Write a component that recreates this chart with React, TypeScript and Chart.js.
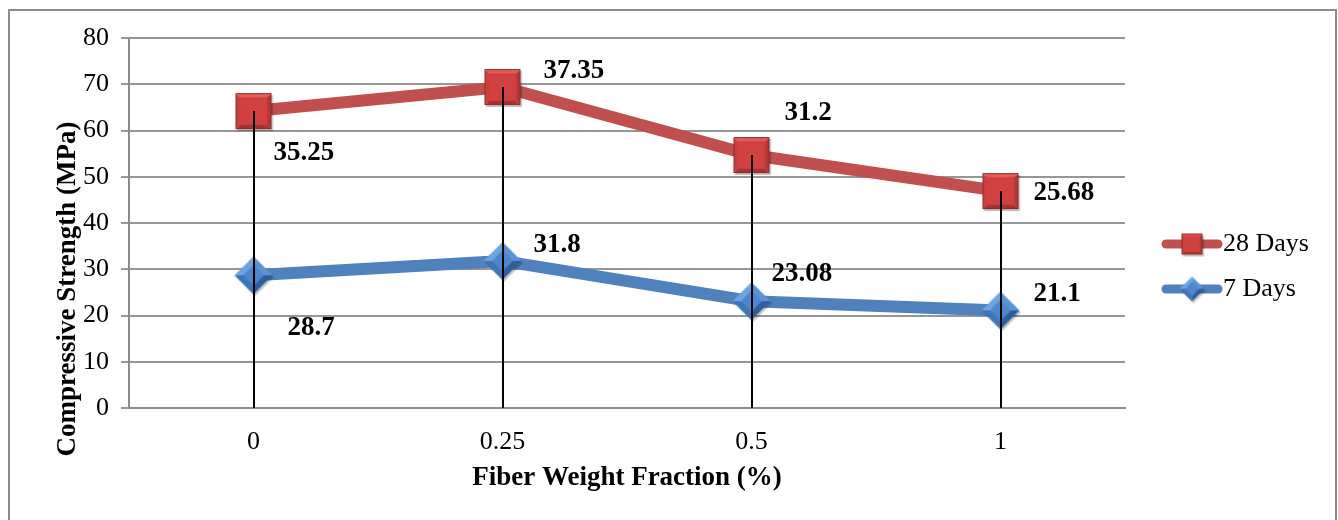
import React, { useEffect, useRef } from "react";
import { Chart, registerables } from "chart.js";

Chart.register(...registerables);

const categories = ["0", "0.25", "0.5", "1"];
const series28Label = "28 Days";
const series7Label = "7 Days";
const days28Values = [64.2, 69.4, 54.7, 46.9];
const days7Values = [28.7, 31.8, 23.1, 21.1];
const days28Labels = ["35.25", "37.35", "31.2", "25.68"];
const days7Labels = ["28.7", "31.8", "23.08", "21.1"];
const yTicksMin = 0;
const yTicksMax = 80;
const yTickStep = 10;
const yTitle = "Compressive Strength (MPa)";
const xTitle = "Fiber Weight Fraction (%)";

// label offsets (style only): [dx from point to text left, dy to text middle]
const offs28: [number, number][] = [[20, 42], [41, -16], [33, -42], [33, 2]];
const offs7: [number, number][] = [[34, 53], [31, -16], [20, -27], [33, -16]];

const RED = "#C0504D";
const BLUE = "#4F81BD";
const FONT = "'Liberation Serif', 'Times New Roman', serif";

function makeSquare(size: number): HTMLCanvasElement {
  const pad = 3;
  const c = document.createElement("canvas");
  c.width = size + pad * 2;
  c.height = size + pad * 2;
  const g = c.getContext("2d")!;
  const x0 = pad, y0 = pad, x1 = pad + size, y1 = pad + size;
  const cx = (x0 + x1) / 2, cy = (y0 + y1) / 2;
  const inset = size * 0.12;
  g.fillStyle = "rgba(0,0,0,0.25)";
  g.fillRect(x0 + 1.5, y0 + 2, size, size);
  const tri = (pts: number[][], col: string) => {
    g.beginPath();
    g.moveTo(pts[0][0], pts[0][1]);
    for (let i = 1; i < pts.length; i++) g.lineTo(pts[i][0], pts[i][1]);
    g.closePath();
    g.fillStyle = col;
    g.fill();
  };
  tri([[x0, y0], [x1, y0], [cx, cy]], "#E35A58");
  tri([[x0, y0], [x0, y1], [cx, cy]], "#C8403E");
  tri([[x1, y0], [x1, y1], [cx, cy]], "#B53634");
  tri([[x0, y1], [x1, y1], [cx, cy]], "#A83231");
  g.fillStyle = "#D0413F";
  g.fillRect(x0 + inset, y0 + inset, size - 2 * inset, size - 2 * inset);
  g.strokeStyle = "#8E2A29";
  g.lineWidth = 1;
  g.strokeRect(x0 + 0.5, y0 + 0.5, size - 1, size - 1);
  return c;
}

function makeDiamond(size: number): HTMLCanvasElement {
  const pad = 3;
  const c = document.createElement("canvas");
  c.width = size + pad * 2;
  c.height = size + pad * 2;
  const g = c.getContext("2d")!;
  const cx = pad + size / 2, cy = pad + size / 2, r = size / 2;
  const tri = (pts: number[][], col: string) => {
    g.beginPath();
    g.moveTo(pts[0][0], pts[0][1]);
    for (let i = 1; i < pts.length; i++) g.lineTo(pts[i][0], pts[i][1]);
    g.closePath();
    g.fillStyle = col;
    g.fill();
  };
  tri([[cx + 1.5, cy - r + 2], [cx + r + 1.5, cy + 2], [cx + 1.5, cy + r + 2], [cx - r + 1.5, cy + 2]], "rgba(0,0,0,0.22)");
  tri([[cx, cy - r], [cx - r, cy], [cx, cy]], "#6FA3E0");
  tri([[cx, cy - r], [cx + r, cy], [cx, cy]], "#5A92D6");
  tri([[cx - r, cy], [cx, cy + r], [cx, cy]], "#3E74B8");
  tri([[cx + r, cy], [cx, cy + r], [cx, cy]], "#2F5E9C");
  const k = 0.55;
  tri([[cx, cy - r * k], [cx + r * k, cy], [cx, cy + r * k], [cx - r * k, cy]], "#4D86CC");
  return c;
}

export default function App() {
  const ref = useRef<HTMLCanvasElement>(null);

  useEffect(() => {
    if (!ref.current) return;
    const sq = makeSquare(36);
    const dm = makeDiamond(38);
    const sqSmall = makeSquare(21);
    const dmSmall = makeDiamond(25);

    const overlay = {
      id: "overlay",
      afterDatasetsDraw(chart: any) {
        const ctx = chart.ctx;
        const yScale = chart.scales.y;
        const meta28 = chart.getDatasetMeta(0);
        const meta7 = chart.getDatasetMeta(1);
        ctx.save();
        ctx.strokeStyle = "#000";
        ctx.lineWidth = 2;
        meta28.data.forEach((pt: any) => {
          ctx.beginPath();
          ctx.moveTo(Math.round(pt.x), pt.y);
          ctx.lineTo(Math.round(pt.x), yScale.getPixelForValue(0));
          ctx.stroke();
        });
        ctx.fillStyle = "#000";
        ctx.font = `bold 27px ${FONT}`;
        ctx.textAlign = "left";
        ctx.textBaseline = "middle";
        meta28.data.forEach((pt: any, i: number) => {
          ctx.fillText(days28Labels[i], pt.x + offs28[i][0], pt.y + offs28[i][1]);
        });
        meta7.data.forEach((pt: any, i: number) => {
          ctx.fillText(days7Labels[i], pt.x + offs7[i][0], pt.y + offs7[i][1]);
        });
        ctx.restore();
      },
      afterDraw(chart: any) {
        const ctx = chart.ctx;
        const area = chart.chartArea;
        ctx.save();
        ctx.strokeStyle = "#8C8C8C";
        ctx.lineWidth = 2;
        ctx.strokeRect(9, 10, 1327, 540);
        ctx.fillStyle = "#000";
        ctx.font = `bold 27px ${FONT}`;
        ctx.textAlign = "center";
        ctx.textBaseline = "middle";
        ctx.fillText(xTitle, (area.left + area.right) / 2, 478);
        ctx.save();
        ctx.translate(68, 289);
        ctx.rotate(-Math.PI / 2);
        ctx.fillText(yTitle, 0, 0);
        ctx.restore();
        const items = [
          { label: series28Label, color: RED, img: sqSmall, y: 244 },
          { label: series7Label, color: BLUE, img: dmSmall, y: 289 },
        ];
        items.forEach((it) => {
          ctx.strokeStyle = it.color;
          ctx.lineWidth = 9;
          ctx.lineCap = "round";
          ctx.beginPath();
          ctx.moveTo(1166, it.y);
          ctx.lineTo(1218, it.y);
          ctx.stroke();
          ctx.drawImage(it.img, 1192 - it.img.width / 2, it.y - it.img.height / 2);
          ctx.fillStyle = "#000";
          ctx.font = `26px ${FONT}`;
          ctx.textAlign = "left";
          ctx.textBaseline = "middle";
          ctx.fillText(it.label, 1223, it.y);
        });
        ctx.restore();
      },
    };

    const chart = new Chart(ref.current, {
      type: "line",
      data: {
        labels: categories,
        datasets: [
          {
            label: series28Label,
            data: days28Values,
            borderColor: RED,
            backgroundColor: RED,
            borderWidth: 12,
            pointStyle: sq as any,
            pointRadius: 18,
            tension: 0,
          },
          {
            label: series7Label,
            data: days7Values,
            borderColor: BLUE,
            backgroundColor: BLUE,
            borderWidth: 12,
            pointStyle: dm as any,
            pointRadius: 18,
            tension: 0,
          },
        ],
      },
      options: {
        responsive: false,
        animation: false,
        devicePixelRatio: 1,
        layout: { padding: { left: 0, top: 38, right: 213, bottom: 0 } },
        plugins: {
          legend: { display: false },
          tooltip: { enabled: false },
        },
        scales: {
          x: {
            offset: true,
            grid: { display: false },
            border: { display: true, color: "#8C8C8C", width: 2 },
            ticks: { color: "#000", font: { family: FONT, size: 26 }, padding: 11 },
            afterFit(scale: any) {
              scale.height = 112;
            },
          },
          y: {
            min: yTicksMin,
            max: yTicksMax,
            ticks: { stepSize: yTickStep, color: "#000", font: { family: FONT, size: 26 }, padding: 12 },
            grid: { color: "#969696", lineWidth: 2, tickLength: 8 },
            border: { display: true, color: "#8C8C8C", width: 2 },
            afterFit(scale: any) {
              scale.width = 129;
            },
          },
        },
      },
      plugins: [overlay],
    } as any);
    return () => chart.destroy();
  }, []);

  return (
    <div style={{ position: "absolute", left: 0, top: 0, width: 1338, height: 520, background: "#fff" }}>
      <canvas ref={ref} width={1338} height={520} style={{ display: "block" }} />
    </div>
  );
}
